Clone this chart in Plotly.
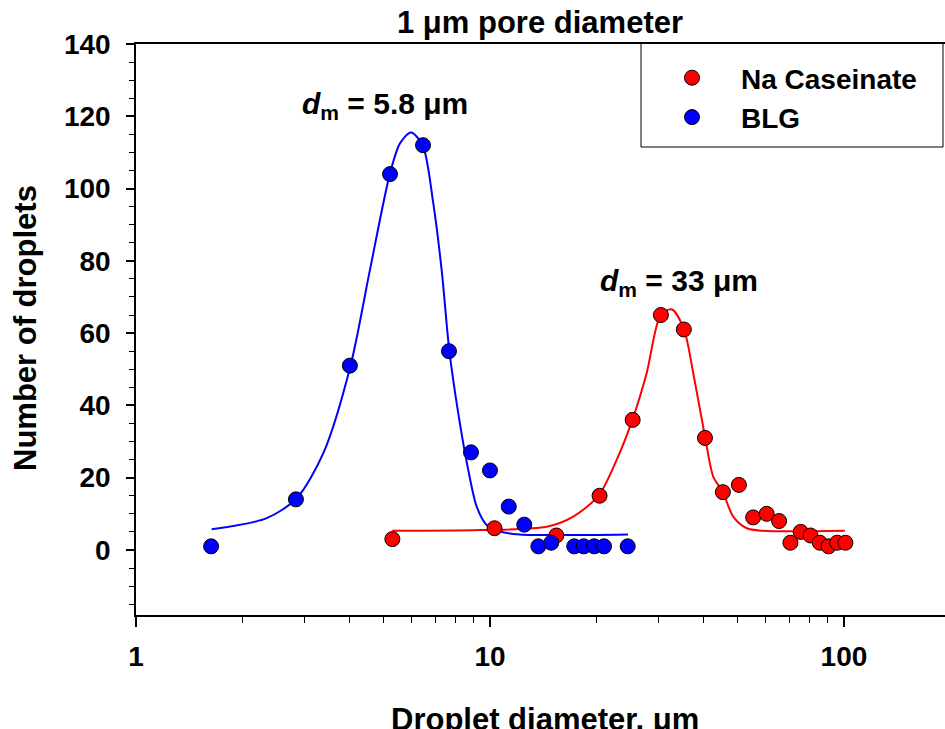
import plotly.graph_objects as go
import math

# ---- data ----
nacas_x = [5.3, 10.3, 15.4, 20.4, 25.3, 30.4, 35.3, 40.5, 45.5, 50.5,
           55.4, 60.5, 65.6, 70.6, 75.5, 80.5, 85.5, 90.5, 95.7, 101]
nacas_y = [3, 6, 4, 15, 36, 65, 61, 31, 16, 18,
           9, 10, 8, 2, 5, 4, 2, 1, 2, 2]

blg_x = [1.63, 2.83, 4.02, 5.22, 6.47, 7.66, 8.84, 10.0, 11.3, 12.5,
         13.7, 14.9, 17.3, 18.4, 19.7, 21.0, 24.5]
blg_y = [1, 14, 51, 104, 112, 55, 27, 22, 12, 7,
         1, 2, 1, 1, 1, 1, 1]

# fitted curves
blg_fit_x = [1.636, 2.34, 2.844, 3.382, 4.042, 4.581, 5.219, 5.569, 5.982,
             6.455, 6.917, 7.304, 7.674, 8.137, 8.684, 9.173, 9.787, 10.67,
             12.15, 24.54]
blg_fit_y = [5.7, 8.8, 14.3, 26.8, 51.2, 77.5, 104.2, 112.5, 115.5,
             112.0, 95.9, 77.4, 55.3, 37.8, 22.1, 12.0, 6.9, 5.1,
             4.3, 4.3]

nacas_fit_x = [5.297, 9.37, 14.46, 17.19, 20.32, 22.80, 25.30, 27.71, 30.35,
               32.61, 35.32, 37.53, 40.50, 42.74, 45.43, 48.68, 53.12, 59.16,
               100.6]
nacas_fit_y = [5.3, 5.5, 6.4, 9.2, 15.2, 24.9, 36.2, 48.9, 65.0,
               66.6, 61.1, 48.9, 31.4, 20.3, 16.1, 9.2, 6.0, 5.3,
               5.3]

series_names = ["Na Caseinate", "BLG"]
y_tickvals = [0, 20, 40, 60, 80, 100, 120, 140]
x_tickvals = [1, 10, 100]

RED = "#FF0000"
BLUE = "#0000FF"
FONT = "Liberation Sans, Arial, sans-serif"

fig = go.Figure()

fig.add_trace(go.Scatter(x=nacas_fit_x, y=nacas_fit_y, mode="lines",
                         line=dict(color=RED, width=2, shape="spline", smoothing=0.8),
                         showlegend=False, hoverinfo="skip"))
fig.add_trace(go.Scatter(x=blg_fit_x, y=blg_fit_y, mode="lines",
                         line=dict(color=BLUE, width=2, shape="spline", smoothing=0.8),
                         showlegend=False, hoverinfo="skip"))
fig.add_trace(go.Scatter(x=nacas_x, y=nacas_y, mode="markers", name=series_names[0],
                         marker=dict(color=RED, size=15, line=dict(color="black", width=1))))
fig.add_trace(go.Scatter(x=blg_x, y=blg_y, mode="markers", name=series_names[1],
                         marker=dict(color=BLUE, size=15, line=dict(color="black", width=1))))

L, T, B = 136, 44, 114
W, H = 945, 729
pw = W - L
ph = H - T - B

def px(xp):
    return (xp - L) / pw

def py(yp):
    return (H - B - yp) / ph

fig.update_layout(
    width=W, height=H,
    margin=dict(l=L, r=0, t=T, b=B),
    paper_bgcolor="white", plot_bgcolor="white",
    font=dict(family=FONT, color="black", size=28, weight="bold"),
    showlegend=True,
    legend=dict(x=px(643), y=py(53), xanchor="left", yanchor="top",
                bgcolor="rgba(0,0,0,0)", borderwidth=0,
                font=dict(family=FONT, size=28, color="black", weight="bold"),
                itemwidth=88, tracegroupgap=0),
)

fig.update_xaxes(
    type="log", range=[0, math.log10(193)],
    showline=True, linecolor="black", linewidth=1.5, mirror=True,
    showgrid=False, zeroline=False,
    ticks="outside", ticklen=10, tickwidth=1.5, tickcolor="black",
    tickvals=x_tickvals, ticktext=[str(v) for v in x_tickvals],
    tickfont=dict(family=FONT, size=28, color="black", weight="bold"),
    ticklabelstandoff=6,
    minor=dict(ticks="outside", ticklen=6, tickwidth=1, tickcolor="black", dtick="D1", showgrid=False),
)
fig.update_yaxes(
    range=[-18, 140],
    showline=True, linecolor="black", linewidth=1.5, mirror=False,
    showgrid=False, zeroline=False,
    ticks="outside", ticklen=8, tickwidth=1.5, tickcolor="black",
    tickvals=y_tickvals, ticktext=[str(v) for v in y_tickvals],
    tickfont=dict(family=FONT, size=28, color="black", weight="bold"),
    ticklabelstandoff=10,
    minor=dict(ticks="outside", ticklen=5, tickwidth=1, tickcolor="black", dtick=5, tick0=0, showgrid=False),
)

# legend frame
fig.add_shape(type="rect", xref="paper", yref="paper",
              x0=px(641), x1=px(943), y0=py(147), y1=py(43),
              line=dict(color="black", width=1), fillcolor="rgba(0,0,0,0)", layer="above")

ann = []
ann.append(dict(text="<b>1 \u03bcm pore diameter</b>", xref="paper", yref="paper",
                x=px(540), y=py(22), xanchor="center", yanchor="middle",
                showarrow=False, font=dict(family=FONT, size=31, color="black")))
ann.append(dict(text="<b>Droplet diameter, \u03bcm</b>", xref="paper", yref="paper",
                x=px(545), y=py(719), xanchor="center", yanchor="middle",
                showarrow=False, font=dict(family=FONT, size=31, color="black")))
ann.append(dict(text="<b>Number of droplets</b>", xref="paper", yref="paper",
                x=px(25), y=py(328), xanchor="center", yanchor="middle", textangle=-90,
                showarrow=False, font=dict(family=FONT, size=31, color="black")))
ann.append(dict(text="<b><i>d</i><sub>m</sub> = 5.8 \u03bcm</b>", xref="x", yref="y",
                x=math.log10(5.05), y=123, xanchor="center", yanchor="middle",
                showarrow=False, font=dict(family=FONT, size=30, color="black")))
ann.append(dict(text="<b><i>d</i><sub>m</sub> = 33 \u03bcm</b>", xref="x", yref="y",
                x=math.log10(34.3), y=74, xanchor="center", yanchor="middle",
                showarrow=False, font=dict(family=FONT, size=30, color="black")))
fig.update_layout(annotations=ann)

fig.write_html("out.html")
